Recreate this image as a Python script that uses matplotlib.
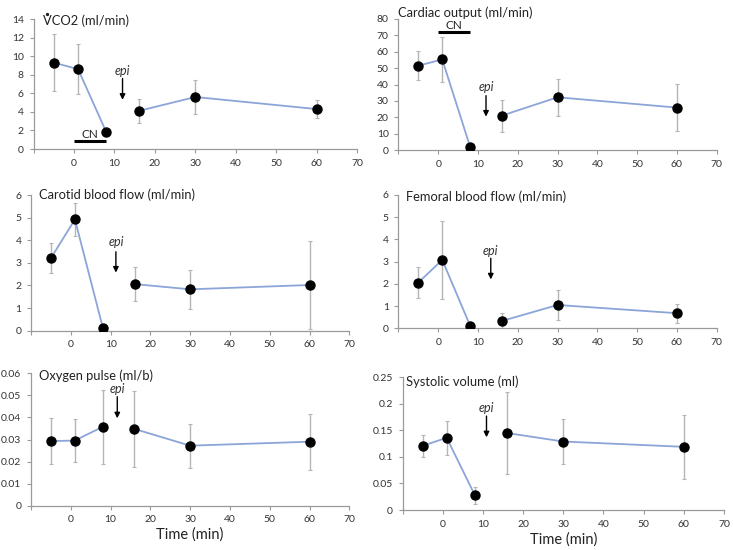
import matplotlib
matplotlib.use("Agg")
import matplotlib.pyplot as plt
from matplotlib.lines import Line2D

plt.rcParams['font.family'] = ['Lato', 'DejaVu Sans']

time = [-5, 1, 8, 16, 30, 60]

vco2 = [9.3, 8.6, 1.8, 4.1, 5.6, 4.3]
vco2_err = [3.1, 2.7, 0.4, 1.25, 1.85, 1.0]

cardiac = [51.5, 55.3, 2.0, 21.0, 32.2, 25.9]
cardiac_err = [9.0, 13.7, 1.0, 9.8, 11.3, 14.4]

carotid = [3.22, 4.92, 0.14, 2.06, 1.83, 2.02]
carotid_err = [0.67, 0.72, 0.05, 0.76, 0.85, 1.95]

femoral = [2.06, 3.08, 0.12, 0.33, 1.05, 0.68]
femoral_err = [0.71, 1.77, 0.04, 0.35, 0.67, 0.42]

o2pulse = [0.0293, 0.0295, 0.0357, 0.0348, 0.0272, 0.0290]
o2pulse_err = [0.0105, 0.0097, 0.0167, 0.0171, 0.0100, 0.0127]

systolic = [0.121, 0.136, 0.028, 0.145, 0.129, 0.119]
systolic_err = [0.021, 0.032, 0.016, 0.077, 0.042, 0.060]

titles = ["VCO2 (ml/min)", "Cardiac output (ml/min)",
          "Carotid blood flow (ml/min)", "Femoral blood flow (ml/min)",
          "Oxygen pulse (ml/b)", "Systolic volume (ml)"]

xticks = [-10, 0, 10, 20, 30, 40, 50, 60, 70]
xticklabels = ["", "0", "10", "20", "30", "40", "50", "60", "70"]

W, H = 733, 550
fig = plt.figure(figsize=(7.33, 5.5), dpi=100)

# pixel boxes: x0, x1, ybottom, ytop
boxes = [
    (33.6, 357.0, 149.0, 19.0),
    (398.5, 716.7, 150.0, 19.0),
    (31.2, 349.3, 330.7, 195.0),
    (398.5, 716.7, 328.3, 195.0),
    (30.9, 349.3, 505.7, 373.3),
    (402.5, 724.0, 510.0, 377.3),
]

# title anchor pixels (left x, center y)
title_pos = [(43, 21), (398, 12.7), (39, 195), (406, 197), (39, 376), (406, 382)]
xlabel_y = [None, None, None, None, 535, 540]

panels = [
    (vco2, vco2_err, (0, 14), [0, 2, 4, 6, 8, 10, 12, 14], None),
    (cardiac, cardiac_err, (0, 80), [0, 10, 20, 30, 40, 50, 60, 70, 80], None),
    (carotid, carotid_err, (0, 6), [0, 1, 2, 3, 4, 5, 6], None),
    (femoral, femoral_err, (0, 6), [0, 1, 2, 3, 4, 5, 6], None),
    (o2pulse, o2pulse_err, (0, 0.06), [0, 0.01, 0.02, 0.03, 0.04, 0.05, 0.06],
     ["0", "0.01", "0.02", "0.03", "0.04", "0.05", "0.06"]),
    (systolic, systolic_err, (0, 0.25), [0, 0.05, 0.1, 0.15, 0.2, 0.25],
     ["0", "0.05", "0.1", "0.15", "0.2", "0.25"]),
]

# epi arrows: x, y_start, y_end, text_y
epi = [
    (12, 7.6, 5.3, 8.45),
    (12, 33.2, 20.4, 38.3),
    (11.3, 3.49, 2.57, 3.9),
    (13.2, 3.15, 2.2, 3.5),
    (11.7, 0.0494, 0.0396, 0.0529),
    (10.9, 0.177, 0.137, 0.193),
]

# CN bars: (x0, x1, y_bar, y_text)
cn = {0: (0, 8, 0.86, 1.55), 1: (0, 8, 72, 76.3)}

line_color = "#8CA5D8"
err_color = "#B5B5B5"
axis_color = "#9A9A9A"
title_size = 9.3

for i, (box, panel) in enumerate(zip(boxes, panels)):
    x0, x1, yb, yt = box
    ax = fig.add_axes([x0 / W, 1 - yb / H, (x1 - x0) / W, (yb - yt) / H])
    vals, errs, ylim, yticks, ylabels = panel
    ax.plot(time[:3], vals[:3], color=line_color, lw=1.3, zorder=2)
    ax.plot(time[3:], vals[3:], color=line_color, lw=1.3, zorder=2)
    ax.errorbar(time, vals, yerr=errs, fmt='none', ecolor=err_color,
                elinewidth=1.0, capsize=1.5, capthick=0.8, zorder=1)
    ax.plot(time, vals, 'o', color='black', ms=6.5, zorder=3)
    ax.set_xlim(-10, 70)
    ax.set_ylim(*ylim)
    ax.set_xticks(xticks)
    ax.set_xticklabels(xticklabels)
    ax.set_yticks(yticks)
    if ylabels is not None:
        ax.set_yticklabels(ylabels)
    ax.spines['top'].set_visible(False)
    ax.spines['right'].set_visible(False)
    for s in ('left', 'bottom'):
        ax.spines[s].set_color(axis_color)
        ax.spines[s].set_linewidth(0.9)
    ax.tick_params(axis='both', colors=axis_color, labelcolor='#333333',
                   labelsize=7.5, length=3, width=0.8, direction='out', pad=4)
    ax.patch.set_alpha(0)

    tx, ty = title_pos[i]
    fig.text(tx / W, 1 - ty / H, titles[i], fontsize=title_size, ha='left',
             va='center', color='#222222')
    if i == 0:
        # dot above the V (V-dot notation)
        tmp = fig.text(tx / W, 1 - ty / H, "V", fontsize=title_size, ha='left',
                       va='center', alpha=0)
        fig.canvas.draw()
        bb = tmp.get_window_extent()
        cx = (bb.x0 + bb.x1) / 2 / W
        fig.add_artist(Line2D([cx], [1 - (ty - 7.5) / H], marker='o', ms=1.4,
                              color='#222222', transform=fig.transFigure))
        tmp.remove()

    ex, ys, ye, tey = epi[i]
    ax.annotate("", xy=(ex, ye), xytext=(ex, ys),
                arrowprops=dict(arrowstyle='-|>', color='black', lw=1.0,
                                mutation_scale=8, shrinkA=0, shrinkB=0))
    ax.text(ex, tey, "epi", fontsize=9, style='italic', ha='center',
            va='center', color='#333333')
    if i in cn:
        c0, c1, cy, ctext = cn[i]
        ax.plot([c0, c1], [cy, cy], color='black', lw=2.2, solid_capstyle='butt',
                clip_on=False)
        ax.text((c0 + c1) / 2, ctext, "CN", fontsize=8.5, ha='center',
                va='center', color='#222222')
    if xlabel_y[i] is not None:
        fig.text((x0 + x1) / 2 / W, 1 - xlabel_y[i] / H, "Time (min)",
                 fontsize=10.5, ha='center', va='center', color='#222222')

fig.savefig("out.png", dpi=100)
